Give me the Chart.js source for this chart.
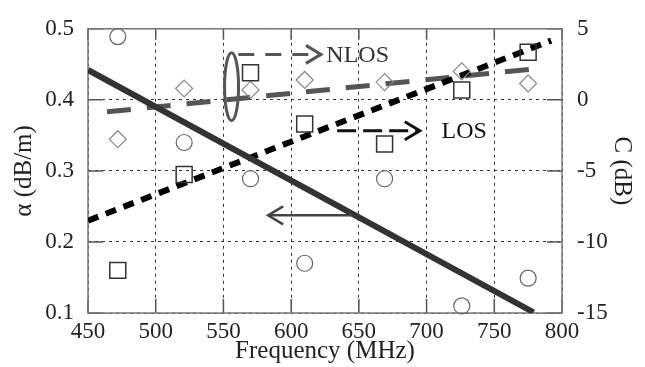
<!DOCTYPE html>
<html>
<head>
<meta charset="utf-8">
<script src="https://cdn.jsdelivr.net/npm/chart.js@4/dist/chart.umd.min.js"></script>
<style>
    html, body { margin: 0; background: #fff; }
    #wrap { width: 645px; height: 367px; }
</style>
</head>
<body>
<div id="wrap"><canvas id="chart"></canvas></div>
<script>
// measured points (MHz)
const freqs = [472, 521, 570, 610, 669, 726, 775];
const alphaMeas = [0.489, 0.340, 0.289, 0.170, 0.289, 0.110, 0.149];   // dB/m, left axis
const cLos = [-12.0, -5.25, 1.9, -1.7, -3.1, 0.7, 3.35];              // dB, right axis
const cNlos = [-2.77, 0.8, 0.7, 1.4, 1.25, 2.0, 1.15];                // dB, right axis

// fitted lines
const alphaFitFreq = [450, 779];
const alphaFit = [0.442, 0.101];
const losFitFreq = [450, 792];
const losFit = [-8.5, 4.17];
const nlosFitFreq = [464, 787];
const nlosFit = [-0.84, 2.25];

// axes
const freqRange = [450, 800];
const alphaRange = [0.1, 0.5];
const cRange = [-15, 5];

const serif = '"Liberation Serif", "Times New Roman", serif';

const pts = (xs, ys) => xs.map((v, i) => ({ x: v, y: ys[i] }));

// frame, inward tick marks and annotations
const frame = {
    id: 'frame',
    beforeDatasetsDraw(chart) {
        const { ctx, chartArea: a, scales } = chart;
        ctx.save();
        ctx.strokeStyle = '#555';
        ctx.lineWidth = 1.5;
        ctx.beginPath();
        scales.x.ticks.forEach(t => {
            const p = scales.x.getPixelForValue(t.value);
            ctx.moveTo(p, a.bottom); ctx.lineTo(p, a.bottom - 14);
            ctx.moveTo(p, a.top); ctx.lineTo(p, a.top + 11);
        });
        scales.y.ticks.forEach(t => {
            const p = scales.y.getPixelForValue(t.value);
            ctx.moveTo(a.left, p); ctx.lineTo(a.left + 15, p);
            ctx.moveTo(a.right, p); ctx.lineTo(a.right - 15, p);
        });
        ctx.stroke();
        ctx.strokeStyle = '#777';
        ctx.strokeRect(a.left, a.top, a.right - a.left, a.bottom - a.top);
        ctx.restore();
    },
    afterDatasetsDraw(chart) {
        const { ctx, scales: { x, y, y1 } } = chart;
        ctx.save();
        ctx.lineCap = 'butt';

        const arrow = (x0, x1, py, color, dash, w) => {
            ctx.strokeStyle = color;
            ctx.lineWidth = w;
            ctx.setLineDash(dash);
            ctx.beginPath(); ctx.moveTo(x0, py); ctx.lineTo(x1, py); ctx.stroke();
            ctx.setLineDash([]);
            const d = x1 > x0 ? -1 : 1;
            ctx.beginPath();
            ctx.moveTo(x1 + d * 15, py - 9); ctx.lineTo(x1, py); ctx.lineTo(x1 + d * 15, py + 9);
            ctx.stroke();
        };

        // NLOS group
        ctx.strokeStyle = '#555';
        ctx.lineWidth = 3;
        ctx.beginPath();
        ctx.ellipse(x.getPixelForValue(556), y.getPixelForValue(0.4186), 7, 34, 0, 0, Math.PI * 2);
        ctx.stroke();
        const pn = y1.getPixelForValue(3.2);
        arrow(x.getPixelForValue(561), x.getPixelForValue(622), pn, '#555', [16, 11], 3);

        // LOS
        const pl = y1.getPixelForValue(-2.17);
        arrow(x.getPixelForValue(634), x.getPixelForValue(695), pl, '#111', [19, 7], 3);

        // alpha -> left axis
        const pa = y.getPixelForValue(0.2375);
        arrow(x.getPixelForValue(645), x.getPixelForValue(583), pa, '#444', [], 2.5);

        ctx.font = '24px ' + serif;
        ctx.textBaseline = 'middle';
        ctx.textAlign = 'left';
        ctx.fillStyle = '#333';
        ctx.fillText('NLOS', x.getPixelForValue(626), pn + 1);
        ctx.fillStyle = '#111';
        ctx.fillText('LOS', x.getPixelForValue(711), pl + 1);
        ctx.restore();
    }
};

const tickFont = { family: serif, size: 23 };
const titleFont = { family: serif, size: 25 };

new Chart(document.getElementById('chart'), {
    type: 'scatter',
    data: {
        datasets: [
            {
                label: 'alpha fit',
                type: 'line',
                data: pts(alphaFitFreq, alphaFit),
                yAxisID: 'y',
                borderColor: '#333',
                borderWidth: 6,
                pointRadius: 0,
                order: 3
            },
            {
                label: 'LOS fit',
                type: 'line',
                data: pts(losFitFreq, losFit),
                yAxisID: 'y1',
                borderColor: '#000',
                borderWidth: 6,
                borderDash: [11, 8],
                pointRadius: 0,
                order: 3
            },
            {
                label: 'NLOS fit',
                type: 'line',
                data: pts(nlosFitFreq, nlosFit),
                yAxisID: 'y1',
                borderColor: '#555',
                borderWidth: 5,
                borderDash: [24, 16],
                pointRadius: 0,
                order: 3
            },
            {
                label: 'alpha',
                data: pts(freqs, alphaMeas),
                yAxisID: 'y',
                pointStyle: 'circle',
                pointRadius: 8,
                borderColor: '#666',
                borderWidth: 1.2,
                backgroundColor: 'rgba(0,0,0,0)',
                clip: false,
                order: 1
            },
            {
                label: 'C LOS',
                data: pts(freqs, cLos),
                yAxisID: 'y1',
                pointStyle: 'rect',
                pointRadius: 11.3,
                borderColor: '#333',
                borderWidth: 1.5,
                backgroundColor: 'rgba(0,0,0,0)',
                clip: false,
                order: 1
            },
            {
                label: 'C NLOS',
                data: pts(freqs, cNlos),
                yAxisID: 'y1',
                pointStyle: 'rectRot',
                pointRadius: 8.5,
                borderColor: '#888',
                borderWidth: 1.2,
                backgroundColor: 'rgba(0,0,0,0)',
                clip: false,
                order: 1
            }
        ]
    },
    options: {
        responsive: true,
        maintainAspectRatio: false,
        animation: false,
        layout: { padding: { top: 23, left: 0, right: 0, bottom: 0 } },
        plugins: { legend: { display: false }, tooltip: { enabled: false } },
        scales: {
            x: {
                type: 'linear',
                min: freqRange[0],
                max: freqRange[1],
                ticks: { stepSize: 50, font: tickFont, color: '#222', padding: 5, maxRotation: 0 },
                grid: { color: '#333', lineWidth: 1, drawTicks: false },
                border: { display: false, dash: [3, 4] },
                title: { display: true, text: 'Frequency (MHz)', font: titleFont, color: '#222', padding: { top: 0, bottom: 1 } },
                afterFit: s => { s.height = 54; }
            },
            y: {
                position: 'left',
                min: alphaRange[0],
                max: alphaRange[1],
                ticks: { stepSize: 0.1, font: tickFont, color: '#222', padding: 14, callback: v => v.toFixed(1) },
                grid: { color: '#333', lineWidth: 1, drawTicks: false },
                border: { display: false, dash: [3, 4] },
                title: { display: true, text: 'α (dB/m)', font: titleFont, color: '#222', padding: { top: 9, bottom: 0 } },
                afterFit: s => { s.width = 88; }
            },
            y1: {
                position: 'right',
                min: cRange[0],
                max: cRange[1],
                ticks: { stepSize: 5, font: tickFont, color: '#222', padding: 15 },
                grid: { display: false, drawTicks: false },
                border: { display: false },
                title: { display: true, text: 'C (dB)', font: titleFont, color: '#222', padding: { top: 8, bottom: 0 } },
                afterFit: s => { s.width = 83; }
            }
        }
    },
    plugins: [frame]
});
</script>
</body>
</html>
